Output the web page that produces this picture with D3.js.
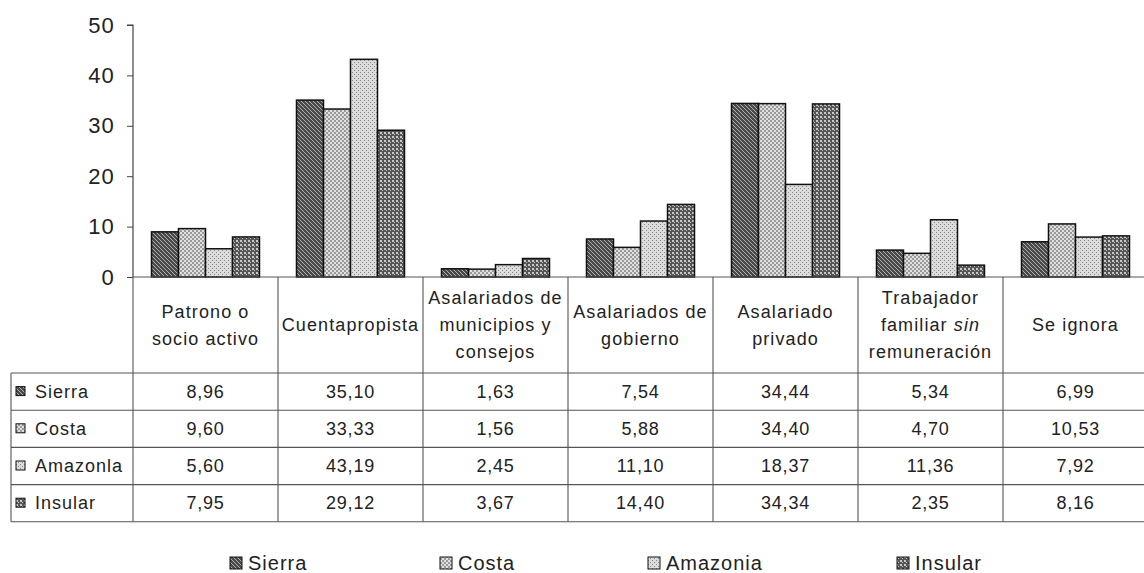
<!DOCTYPE html>
<html><head><meta charset="utf-8">
<script src="https://cdn.jsdelivr.net/npm/d3@7"></script>
<style>body{margin:0;background:#fff;} svg{display:block;font-family:"Liberation Sans",Arial,sans-serif;}</style>
</head><body><svg id="c" width="1144" height="573"></svg>
<script>
const categories = ["Patrono o socio activo","Cuentapropista","Asalariados de municipios y consejos","Asalariados de gobierno","Asalariado privado","Trabajador familiar sin remuneración","Se ignora"];
const categoryLines = [["Patrono o","socio activo"],["Cuentapropista"],["Asalariados de","municipios y","consejos"],["Asalariados de","gobierno"],["Asalariado","privado"],["Trabajador","familiar |sin|","remuneración"],["Se ignora"]];
const seriesNames = ["Sierra","Costa","Amazonia","Insular"];
const tableNames = ["Sierra","Costa","Amazonla","Insular"];
const sierra   = [8.96,35.10,1.63,7.54,34.44,5.34,6.99];
const costa    = [9.60,33.33,1.56,5.88,34.40,4.70,10.53];
const amazonia = [5.60,43.19,2.45,11.10,18.37,11.36,7.92];
const insular  = [7.95,29.12,3.67,14.40,34.34,2.35,8.16];
const yTicks = [0,10,20,30,40,50];

const seriesValues = [sierra,costa,amazonia,insular];
const svg = d3.select("#c");
const defs = svg.append("defs");

function pat(id, bg, draw){
  const p = defs.append("pattern").attr("id",id).attr("patternUnits","userSpaceOnUse").attr("width",4).attr("height",4);
  p.append("rect").attr("width",4).attr("height",4).attr("fill",bg);
  draw(p);
}
pat("p0","#4a4a4a",p=>{p.append("path").attr("d","M0,0L4,4M-1,3L1,5M3,-1L5,1").attr("stroke","#b0b0b0").attr("stroke-width",1);});
pat("p1","#9a9a9a",p=>{p.append("rect").attr("x",0).attr("y",0).attr("width",2).attr("height",2).attr("fill","#e0e0e0");p.append("rect").attr("x",2).attr("y",2).attr("width",2).attr("height",2).attr("fill","#e0e0e0");});
pat("p2","#dcdcdc",p=>{p.append("rect").attr("x",0).attr("y",0).attr("width",1).attr("height",1).attr("fill","#8a8a8a");p.append("rect").attr("x",2).attr("y",2).attr("width",1).attr("height",1).attr("fill","#8a8a8a");});
pat("p3","#555",p=>{p.append("rect").attr("x",0).attr("y",0).attr("width",2).attr("height",2).attr("fill","#c8c8c8");p.append("rect").attr("x",2).attr("y",2).attr("width",1).attr("height",1).attr("fill","#c8c8c8");});

const left = 133, right = 1148, y0 = 277, yTop = 25;
const x = d3.scaleBand().domain(categories).range([left,right]).padding(0);
const x1 = d3.scaleBand().domain(seriesNames).range([0,x.bandwidth()]).paddingInner(0).paddingOuter(0.685);
const y = d3.scaleLinear().domain([0,50]).range([y0,yTop]);

const yAxis = d3.axisLeft(y).tickValues(yTicks).tickSize(6).tickPadding(12);
const gy = svg.append("g").attr("transform",`translate(${left},0)`).call(yAxis);
gy.select(".domain").attr("stroke","#444").attr("stroke-width",1.2).attr("d",`M-6,${yTop}H0V${y0}`);
gy.selectAll(".tick line").attr("stroke","#444");
gy.selectAll(".tick text").attr("font-size",22).attr("fill","#222").attr("font-family","Liberation Sans, Arial, sans-serif").attr("letter-spacing",1.2);

const gBars = svg.append("g");
categories.forEach((c,ci)=>{
  seriesNames.forEach((s,si)=>{
    const v = seriesValues[si][ci];
    gBars.append("rect")
      .attr("x",x(c)+x1(s)).attr("width",x1.bandwidth())
      .attr("y",y(v)).attr("height",y(0)-y(v))
      .attr("fill",`url(#p${si})`).attr("stroke","#111").attr("stroke-width",1.5);
  });
});

const rowTop = 373, rowH = 37.2, tableLeft = 11;
const rowsBottom = rowTop + rowH*4;
const lines = svg.append("g").attr("stroke","#555").attr("stroke-width",1.1);
lines.append("line").attr("x1",left).attr("x2",right).attr("y1",y0).attr("y2",y0);
lines.append("line").attr("x1",left).attr("x2",left).attr("y1",y0).attr("y2",rowsBottom);
categories.forEach(c=>{
  lines.append("line").attr("x1",x(c)+x.bandwidth()).attr("x2",x(c)+x.bandwidth()).attr("y1",y0).attr("y2",rowsBottom);
});
for(let r=0;r<=4;r++){
  lines.append("line").attr("x1",tableLeft).attr("x2",right).attr("y1",rowTop+r*rowH).attr("y2",rowTop+r*rowH);
}
lines.append("line").attr("x1",tableLeft).attr("x2",tableLeft).attr("y1",rowTop).attr("y2",rowsBottom);

const headerMid = 325, headerLH = 27;
const gh = svg.append("g").attr("font-size",18).attr("fill","#222").attr("text-anchor","middle").attr("letter-spacing",1.1);
categories.forEach((c,ci)=>{
  const ls = categoryLines[ci];
  const start = headerMid - (ls.length-1)*headerLH/2;
  ls.forEach((l,li)=>{
    const t = gh.append("text").attr("x",x(c)+x.bandwidth()/2).attr("y",start+li*headerLH+6);
    l.split("|").forEach((part,pi)=>{
      const ts = t.append("tspan").text(part);
      if(pi===1) ts.attr("font-style","italic");
    });
  });
});

const fmt = v => d3.format(".2f")(v).replace(".",",");
const gt = svg.append("g").attr("font-size",18).attr("fill","#222");
seriesNames.forEach((s,si)=>{
  const cy = rowTop + si*rowH + rowH/2;
  gt.append("rect").attr("x",tableLeft+5).attr("y",cy-5).attr("width",9).attr("height",9)
    .attr("fill",`url(#p${si})`).attr("stroke","#111").attr("stroke-width",1);
  gt.append("text").attr("x",tableLeft+24).attr("y",cy+6).attr("letter-spacing",1).text(tableNames[si]);
  categories.forEach((c,ci)=>{
    gt.append("text").attr("x",x(c)+x.bandwidth()/2).attr("y",cy+6).attr("text-anchor","middle").attr("letter-spacing",0.8).text(fmt(seriesValues[si][ci]));
  });
});

const legendX = [230,440,648,897];
const gl = svg.append("g").attr("font-size",20).attr("fill","#222").attr("letter-spacing",1);
seriesNames.forEach((s,si)=>{
  gl.append("rect").attr("x",legendX[si]).attr("y",557).attr("width",12).attr("height",12)
    .attr("fill",`url(#p${si})`).attr("stroke","#111").attr("stroke-width",1);
  gl.append("text").attr("x",legendX[si]+18).attr("y",570).text(s);
});
</script></body></html>
